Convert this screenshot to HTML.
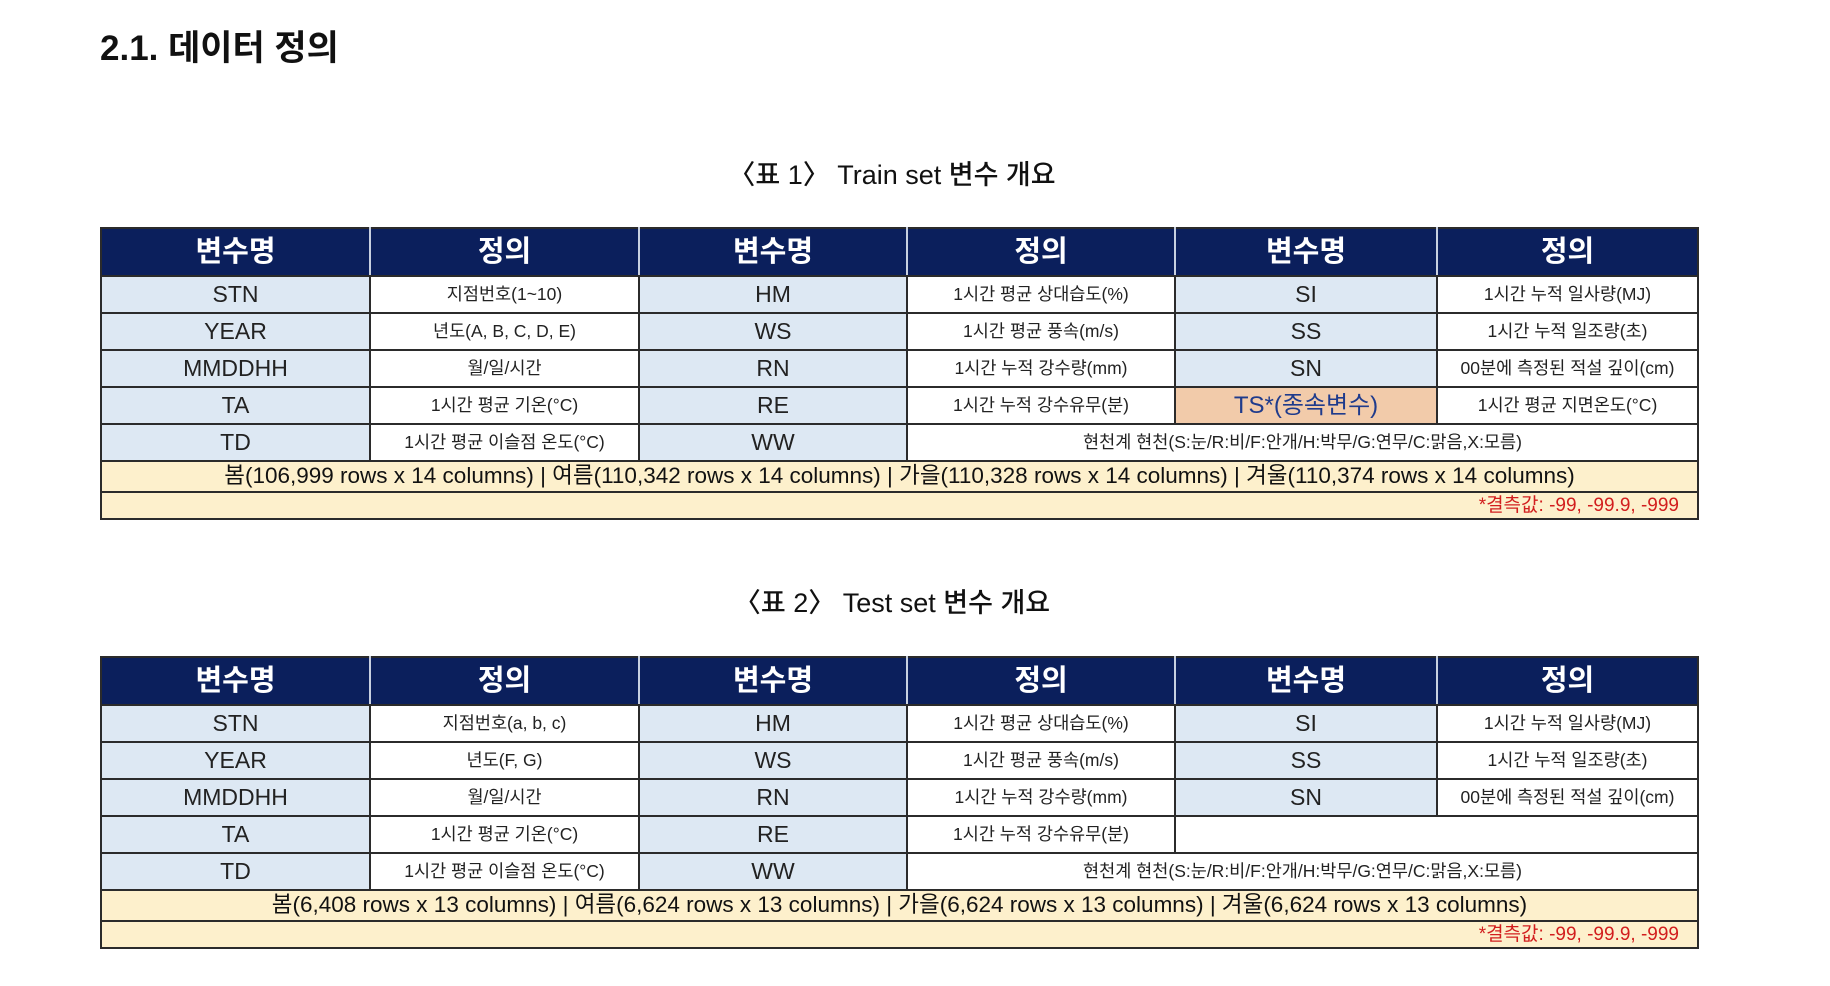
<!DOCTYPE html>
<html><head><meta charset="utf-8">
<style>
body{margin:0;width:1830px;height:986px;background:#fff;position:relative;overflow:hidden;font-family:"Liberation Sans","Noto Sans CJK KR",sans-serif;}
h1{position:absolute;left:100px;top:20px;margin:0;font-size:35px;font-weight:bold;color:#111;font-family:"Liberation Sans","Noto Sans CJK KR",sans-serif;}
.cap{position:absolute;left:-8px;width:1800px;text-align:center;font-size:27px;color:#111;margin:0;font-weight:500;}
table{position:absolute;left:100px;border-collapse:collapse;table-layout:fixed;width:1597px;}
td,th{border:2px solid #2b2b2b;text-align:center;padding:0;overflow:hidden;white-space:nowrap;line-height:1;}
th{background:#0b1f5c;color:#fff;font-size:29px;font-weight:bold;height:46px;border-left-color:#c8d0e0;border-right-color:#c8d0e0;}
th:first-child{border-left-color:#2b2b2b}th:last-child{border-right-color:#2b2b2b}
td{height:35px;}
.v{background:#dde8f3;font-size:23px;color:#222;}
.d{background:#fff;font-size:17.5px;color:#222;}
.ts{background:#f2cbaa;color:#1f3b8c;font-size:24px;}
.s{background:#fdf0cc;font-size:22.5px;color:#111;height:29px;}
.m{background:#fdf0cc;font-size:19px;color:#d21e1e;text-align:right;padding-right:18px;height:25px;}
</style></head><body>
<h1>2.1. 데이터 정의</h1>
<p class="cap" style="top:153px">〈표 1〉 Train set 변수 개요</p>
<table style="top:227px">
<colgroup><col style="width:269px"><col style="width:269px"><col style="width:268px"><col style="width:268px"><col style="width:262px"><col style="width:261px"></colgroup>
<tr><th>변수명</th><th>정의</th><th>변수명</th><th>정의</th><th>변수명</th><th>정의</th></tr>
<tr><td class="v">STN</td><td class="d">지점번호(1~10)</td><td class="v">HM</td><td class="d">1시간 평균 상대습도(%)</td><td class="v">SI</td><td class="d">1시간 누적 일사량(MJ)</td></tr>
<tr><td class="v">YEAR</td><td class="d">년도(A, B, C, D, E)</td><td class="v">WS</td><td class="d">1시간 평균 풍속(m/s)</td><td class="v">SS</td><td class="d">1시간 누적 일조량(초)</td></tr>
<tr><td class="v">MMDDHH</td><td class="d">월/일/시간</td><td class="v">RN</td><td class="d">1시간 누적 강수량(mm)</td><td class="v">SN</td><td class="d">00분에 측정된 적설 깊이(cm)</td></tr>
<tr><td class="v">TA</td><td class="d">1시간 평균 기온(°C)</td><td class="v">RE</td><td class="d">1시간 누적 강수유무(분)</td><td class="ts">TS*(종속변수)</td><td class="d">1시간 평균 지면온도(°C)</td></tr>
<tr><td class="v">TD</td><td class="d">1시간 평균 이슬점 온도(°C)</td><td class="v">WW</td><td class="d" colspan="3">현천계 현천(S:눈/R:비/F:안개/H:박무/G:연무/C:맑음,X:모름)</td></tr>
<tr><td class="s" colspan="6">봄(106,999 rows x 14 columns) | 여름(110,342 rows x 14 columns) | 가을(110,328 rows x 14 columns) | 겨울(110,374 rows x 14 columns)</td></tr>
<tr><td class="m" colspan="6">*결측값: -99, -99.9, -999</td></tr>
</table>
<p class="cap" style="top:581px">〈표 2〉 Test set 변수 개요</p>
<table style="top:656px">
<colgroup><col style="width:269px"><col style="width:269px"><col style="width:268px"><col style="width:268px"><col style="width:262px"><col style="width:261px"></colgroup>
<tr><th>변수명</th><th>정의</th><th>변수명</th><th>정의</th><th>변수명</th><th>정의</th></tr>
<tr><td class="v">STN</td><td class="d">지점번호(a, b, c)</td><td class="v">HM</td><td class="d">1시간 평균 상대습도(%)</td><td class="v">SI</td><td class="d">1시간 누적 일사량(MJ)</td></tr>
<tr><td class="v">YEAR</td><td class="d">년도(F, G)</td><td class="v">WS</td><td class="d">1시간 평균 풍속(m/s)</td><td class="v">SS</td><td class="d">1시간 누적 일조량(초)</td></tr>
<tr><td class="v">MMDDHH</td><td class="d">월/일/시간</td><td class="v">RN</td><td class="d">1시간 누적 강수량(mm)</td><td class="v">SN</td><td class="d">00분에 측정된 적설 깊이(cm)</td></tr>
<tr><td class="v">TA</td><td class="d">1시간 평균 기온(°C)</td><td class="v">RE</td><td class="d">1시간 누적 강수유무(분)</td><td class="d" colspan="2"></td></tr>
<tr><td class="v">TD</td><td class="d">1시간 평균 이슬점 온도(°C)</td><td class="v">WW</td><td class="d" colspan="3">현천계 현천(S:눈/R:비/F:안개/H:박무/G:연무/C:맑음,X:모름)</td></tr>
<tr><td class="s" colspan="6">봄(6,408 rows x 13 columns) | 여름(6,624 rows x 13 columns) | 가을(6,624 rows x 13 columns) | 겨울(6,624 rows x 13 columns)</td></tr>
<tr><td class="m" colspan="6">*결측값: -99, -99.9, -999</td></tr>
</table>
</body></html>
